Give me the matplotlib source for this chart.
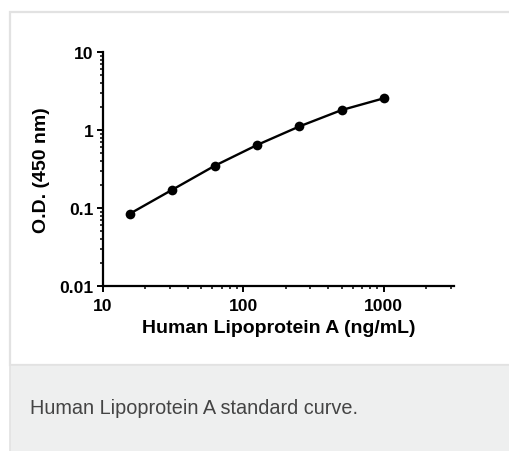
import numpy as np
import matplotlib
matplotlib.use("Agg")
import matplotlib.pyplot as plt
from matplotlib.patches import Rectangle
from matplotlib.ticker import LogLocator, FixedLocator, NullFormatter

# standard curve data
conc = [15.625, 31.25, 62.5, 125, 250, 500, 1000]
od = [0.085, 0.172, 0.348, 0.642, 1.11, 1.80, 2.55]

y_ticks = [0.01, 0.1, 1, 10]
y_ticklabels = ["0.01", "0.1", "1", "10"]
x_ticks = [10, 100, 1000]
x_ticklabels = ["10", "100", "1000"]

W, H = 510, 452
plt.rcParams["font.family"] = ["Liberation Sans", "DejaVu Sans"]

fig = plt.figure(figsize=(W / 100, H / 100), dpi=100)

def px_rect(x0, y0, x1, y1, **kw):
    # rectangle given in image pixels (origin top-left)
    r = Rectangle((x0 / W, 1 - y1 / H), (x1 - x0) / W, (y1 - y0) / H,
                  transform=fig.transFigure, zorder=-5, **kw)
    fig.add_artist(r)

px_rect(10, 13, 540, 366, facecolor="white", edgecolor="#e2e2e2", lw=1.6)
px_rect(10, 366, 540, 470, facecolor="#eeefef", edgecolor="#e2e2e2", lw=1.2)

ax = fig.add_axes([103 / W, 1 - 287 / H, (454 - 103) / W, (287 - 53) / H])
ax.set_facecolor("none")

ax.plot(conc, od, color="black", lw=1.7, marker="o", markersize=7,
        markeredgewidth=0, zorder=3, clip_on=False)

ax.set_xscale("log")
ax.set_yscale("log")
ax.set_xlim(10, 3162)
ax.set_ylim(0.01, 10)

ax.spines["top"].set_visible(False)
ax.spines["right"].set_visible(False)
for s in ("left", "bottom"):
    ax.spines[s].set_linewidth(1.6)

ax.xaxis.set_major_locator(FixedLocator(x_ticks))
ax.set_xticklabels(x_ticklabels)
ax.xaxis.set_minor_locator(LogLocator(base=10, subs=np.arange(2, 10)))
ax.xaxis.set_minor_formatter(NullFormatter())
ax.yaxis.set_major_locator(FixedLocator(y_ticks))
ax.set_yticklabels(y_ticklabels)
ax.yaxis.set_minor_locator(LogLocator(base=10, subs=np.arange(2, 10)))
ax.yaxis.set_minor_formatter(NullFormatter())

ax.tick_params(which="major", direction="out", length=4.3, width=1.4,
               labelsize=12.6)
ax.tick_params(which="minor", direction="out", length=2.3, width=1.1)
ax.tick_params(axis="x", which="major", pad=4)
ax.tick_params(axis="y", which="major", pad=2.5)
for lab in ax.get_xticklabels() + ax.get_yticklabels():
    lab.set_fontweight("bold")

ax.set_xlabel("Human Lipoprotein A (ng/mL)", fontsize=14, fontweight="bold",
              labelpad=5)
ax.set_ylabel("O.D. (450 nm)", fontsize=14, fontweight="bold", labelpad=7)

fig.text(30 / W, 1 - 409 / H, "Human Lipoprotein A standard curve.",
         fontsize=14.3, color="#444444", va="center", ha="left")

fig.savefig("out.png", dpi=100)
